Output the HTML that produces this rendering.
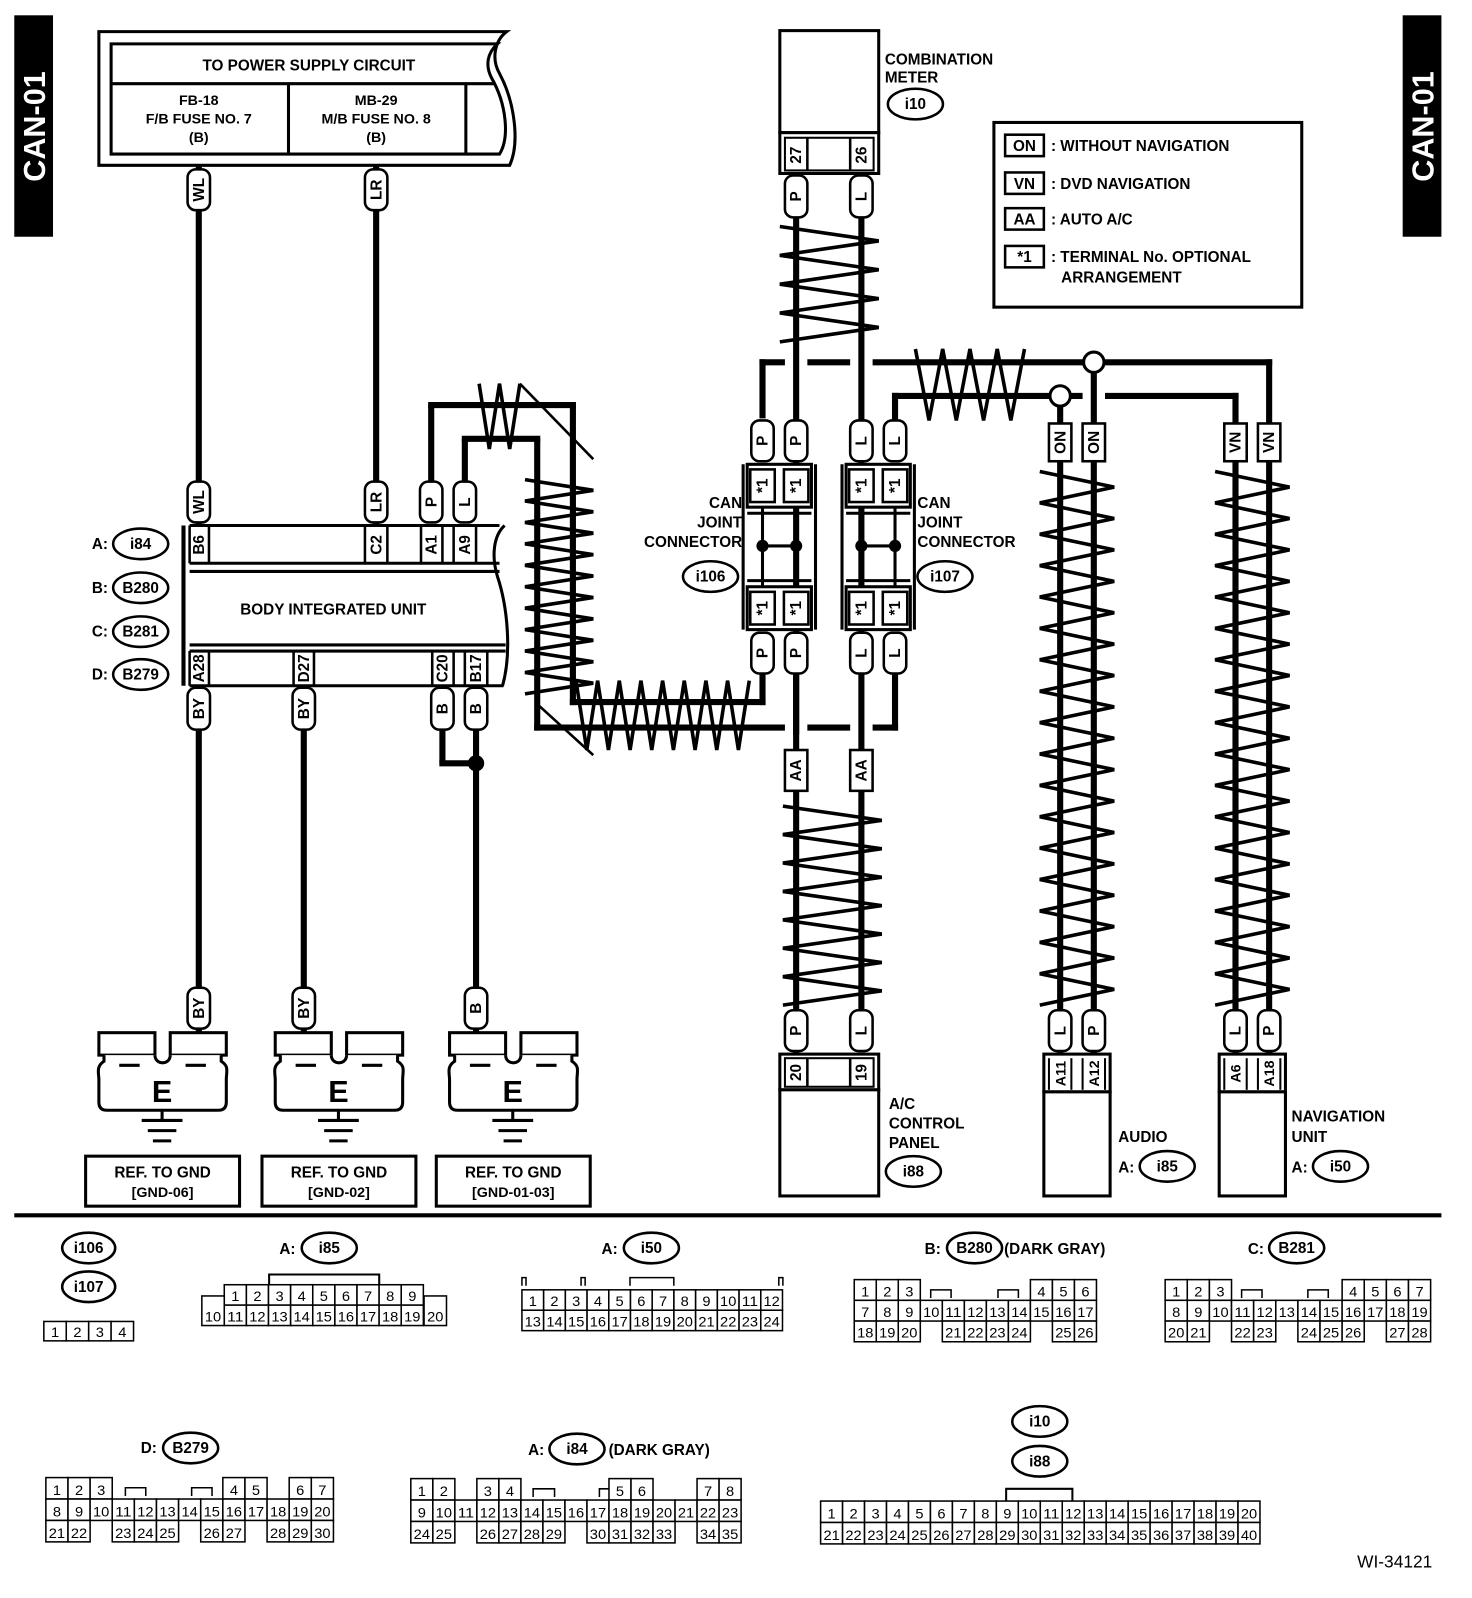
<!DOCTYPE html>
<html><head><meta charset="utf-8">
<style>
html,body{margin:0;padding:0;background:#fff;}
svg{display:block;}
text{font-family:"Liberation Sans",sans-serif;fill:#000;}
.b{font-weight:bold;}
</style></head>
<body>
<div id="w"></div>
<script>
var s=[];
function P(x){s.push(x);}
function L(x1,y1,x2,y2,w){P('<line x1="'+x1+'" y1="'+y1+'" x2="'+x2+'" y2="'+y2+'" stroke="#000" stroke-width="'+(w||6)+'"/>');}
function T(x,y,t,sz,anc,bold,extra){P('<text x="'+x+'" y="'+y+'" font-size="'+(sz||15)+'" text-anchor="'+(anc||'middle')+'" class="'+(bold===false?'':'b')+'" '+(extra||'')+'>'+t+'</text>');}
function TV(x,yc,t,sz){P('<text x="0" y="0" font-size="'+(sz||15)+'" text-anchor="middle" class="b" transform="translate('+(x+5)+','+yc+') rotate(-90)">'+t+'</text>');}
function pill(x,y1,y2,t){P('<rect x="'+(x-11)+'" y="'+y1+'" width="22" height="'+(y2-y1)+'" rx="8" fill="#fff" stroke="#000" stroke-width="2.5"/>');TV(x,(y1+y2)/2,t,15);}
function boxv(x,y1,y2,t){P('<rect x="'+(x-11)+'" y="'+y1+'" width="22" height="'+(y2-y1)+'" fill="#fff" stroke="#000" stroke-width="2.5"/>');TV(x,(y1+y2)/2,t,15);}
function oval(cx,cy,t,rx){rx=rx||27;P('<ellipse cx="'+cx+'" cy="'+cy+'" rx="'+rx+'" ry="15" fill="#fff" stroke="#000" stroke-width="2.5"/>');T(cx,cy+5,t,15);}
function zigV(xl,xr,y1,y2,n){var p=[],d=(y2-y1)/n;for(var i=0;i<=n;i++){p.push(((i%2)?xr:xl)+','+(y1+i*d));}P('<polyline points="'+p.join(' ')+'" fill="none" stroke="#000" stroke-width="3.5"/>');}
function zigH(x1,x2,yt,yb,n){var p=[],d=(x2-x1)/n;for(var i=0;i<=n;i++){p.push((x1+i*d)+','+((i%2)?yb:yt));}P('<polyline points="'+p.join(' ')+'" fill="none" stroke="#000" stroke-width="3.5"/>');}
function cell(x,y,w,h,t){P('<rect x="'+x+'" y="'+y+'" width="'+w+'" height="'+h+'" fill="#fff" stroke="#000" stroke-width="1.5"/>');if(t!==undefined&&t!=='')T(x+w/2,y+h-4,t,14,'middle',false,'textLength="'+Math.min(w-5,t.length*8)+'" lengthAdjust="spacingAndGlyphs"');}
function grid(x0,y0,cw,ch,rows){for(var r=0;r<rows.length;r++){for(var c=0;c<rows[r].length;c++){var v=rows[r][c];if(v!==null)cell(x0+c*cw,y0+r*ch,cw,ch,String(v));}}}
function tab(x,y,w){P('<polyline points="'+x+','+(y+8)+' '+x+','+y+' '+(x+w)+','+y+' '+(x+w)+','+(y+8)+'" fill="none" stroke="#000" stroke-width="1.5"/>');}

P('<rect x="14" y="15" width="38" height="217" fill="#000"/>');
P('<text x="0" y="0" font-size="30" class="b" text-anchor="middle" style="fill:#fff" transform="translate(44,124) rotate(-90)">CAN-01</text>');
P('<rect x="1376" y="15" width="38" height="217" fill="#000"/>');
P('<text x="0" y="0" font-size="30" class="b" text-anchor="middle" style="fill:#fff" transform="translate(1406,124) rotate(-90)">CAN-01</text>');

P('<path d="M97,31 L497,31 C485,40 482,58 490,72 C505,100 510,140 500,162 L97,162 Z" fill="none" stroke="#000" stroke-width="3"/>');
P('<path d="M109,43 L488,43 C478,52 476,64 482,76 C497,102 500,135 490,151 L109,151 Z" fill="none" stroke="#000" stroke-width="3"/>');
L(109,82,485,82,3);L(283,82,283,151,3);L(457,82,457,151,3);
T(303,69,'TO POWER SUPPLY CIRCUIT',15);
T(195,103,'FB-18',14);T(195,121,'F/B FUSE NO. 7',14);T(195,139,'(B)',14);
T(369,103,'MB-29',14);T(369,121,'M/B FUSE NO. 8',14);T(369,139,'(B)',14);

L(195,162,195,515);L(369,162,369,515);
pill(195,166,206,'WL');pill(369,166,206,'LR');
pill(195,472,512,'WL');pill(369,472,512,'LR');

L(423,472,423,397);L(420,397,565,397);L(562,397,562,691);L(559,688,751,688);L(748,691,748,655);
L(456,472,456,430);L(453,430,530,430);L(527,430,527,716);L(524,713,770,713);L(792,713,834,713);L(856,713,881,713);L(878,716,878,655);
pill(423,472,512,'P');pill(456,472,512,'L');
zigV(515,582,470,680,20);
zigH(565,735,667,735,16);
zigH(470,510,376,440,4);
L(510,376,582,450,2.5);L(527,690,582,740,2.5);

L(180,515,180,672,4);
L(186,515,490,515,3);L(186,552,490,552,3);
L(186,560,490,560,3);L(186,632,496,632,3);
L(186,638,496,638,3);L(186,672,494,672,3);
P('<path d="M495,515 C484,525 482,545 488,565 C498,595 502,640 493,672" fill="none" stroke="#000" stroke-width="3"/>');
[[186,205],[358,380],[413,434],[445,467]].forEach(function(a){L(a[0],515,a[0],552,2.5);L(a[1],515,a[1],552,2.5);});
TV(195,534,'B6',15);TV(369,534,'C2',15);TV(423,534,'A1',15);TV(456,534,'A9',15);
[[186,205],[288,308],[424,445],[456,478]].forEach(function(a){L(a[0],638,a[0],672,2.5);L(a[1],638,a[1],672,2.5);});
TV(195,655,'A28',15);TV(298,655,'D27',15);TV(434,655,'C20',15);TV(467,655,'B17',15);
T(327,602,'BODY INTEGRATED UNIT',15);
T(98,538,'A:',15,'middle');oval(138,533,'i84');
T(98,581,'B:',15,'middle');oval(138,576,'B280');
T(98,624,'C:',15,'middle');oval(138,619,'B281');
T(98,666,'D:',15,'middle');oval(138,661,'B279');

L(195,672,195,1012);L(298,672,298,1012);
L(434,672,434,748);L(431,748,470,748);L(467,672,467,1012);
P('<circle cx="467" cy="748" r="8" fill="#000"/>');
pill(195,674,715,'BY');pill(298,674,715,'BY');pill(434,674,715,'B');pill(467,674,715,'B');
pill(195,968,1008,'BY');pill(298,968,1008,'BY');pill(467,968,1008,'B');

[97,270,441].forEach(function(gx){
 P('<rect x="'+gx+'" y="1012" width="55" height="22" fill="#fff" stroke="#000" stroke-width="3"/>');
 P('<rect x="'+(gx+70)+'" y="1012" width="55" height="22" fill="#fff" stroke="#000" stroke-width="3"/>');
 P('<path d="M'+(gx+5)+',1034 L'+(gx+5)+',1040 C'+(gx-3)+',1045 '+(gx)+',1052 '+(gx)+',1058 L'+gx+',1080 Q'+gx+',1088 '+(gx+8)+',1088 L'+(gx+117)+',1088 Q'+(gx+125)+',1088 '+(gx+125)+',1080 L'+(gx+125)+',1058 C'+(gx+125)+',1050 '+(gx+128)+',1045 '+(gx+120)+',1040 L'+(gx+120)+',1034" fill="#fff" stroke="#000" stroke-width="3"/>');
 P('<path d="M'+(gx+55)+',1034 C'+(gx+55)+',1044 '+(gx+70)+',1044 '+(gx+70)+',1034" fill="none" stroke="#000" stroke-width="3"/>');
 L(gx+20,1044,gx+40,1044,3);L(gx+85,1044,gx+105,1044,3);
 T(gx+62,1080,'E',30);
 var c=gx+62;L(c,1088,c,1098,3);L(c-20,1098,c+20,1098,3);L(c-14,1108,c+14,1108,3);L(c-9,1118,c+9,1118,3);
});
[[84,235,'[GND-06]'],[257,408,'[GND-02]'],[428,579,'[GND-01-03]']].forEach(function(a){
 P('<rect x="'+a[0]+'" y="1133" width="'+(a[1]-a[0])+'" height="49" fill="#fff" stroke="#000" stroke-width="3"/>');
 T((a[0]+a[1])/2,1154,'REF. TO GND',15);T((a[0]+a[1])/2,1173,a[2],14);
});

P('<rect x="765" y="30" width="97" height="100" fill="#fff" stroke="#000" stroke-width="3"/>');
P('<rect x="765" y="130" width="97" height="40" fill="#fff" stroke="#000" stroke-width="3"/>');
P('<rect x="770" y="135" width="87" height="32" fill="none" stroke="#000" stroke-width="2"/>');
L(792,135,792,167,2.5);L(834,135,834,167,2.5);
TV(781,152,'27',15);TV(845,152,'26',15);
T(868,63,'COMBINATION',15,'start');T(868,81,'METER',15,'start');oval(898,102,'i10');

L(781,170,781,720);L(845,170,845,1000);
pill(781,172,213,'P');pill(845,172,213,'L');
zigV(765,862,222,335,8);

L(745,355,770,355);L(792,355,834,355);L(856,355,1248,355);
L(748,352,748,410);L(1245,352,1245,420);
L(875,388,1062,388);L(1084,388,1215,388);
L(878,385,878,415);L(1212,385,1212,420);
L(1073,355,1073,420);L(1040,388,1040,420);
zigH(898,1005,342,412,8);
P('<circle cx="1073" cy="355" r="10" fill="#fff" stroke="#000" stroke-width="3"/>');
P('<circle cx="1040" cy="388" r="10" fill="#fff" stroke="#000" stroke-width="3"/>');

function joint(xa,xb,lbl){
 var x0=xa-15,x1=xb+15;
 L(x0-4,455,x0-4,617,3);L(x1+4,455,x1+4,617,3);
 P('<rect x="'+(x0)+'" y="455" width="'+(x1-x0)+'" height="42" fill="#fff" stroke="#000" stroke-width="3"/>');
 P('<rect x="'+(x0)+'" y="575" width="'+(x1-x0)+'" height="42" fill="#fff" stroke="#000" stroke-width="3"/>');
 [xa,xb].forEach(function(x){
  P('<rect x="'+(x-12)+'" y="460" width="24" height="32" fill="#fff" stroke="#000" stroke-width="2.5"/>');
  P('<rect x="'+(x-12)+'" y="580" width="24" height="32" fill="#fff" stroke="#000" stroke-width="2.5"/>');
  TV(x,476,'*1',15);TV(x,596,'*1',15);
  L(x,497,x,575,3);
  P('<circle cx="'+x+'" cy="535" r="6" fill="#000"/>');
 });
 L(x0,503,x1,503,3);L(x0,569,x1,569,3);
 L(xa,535,xb,535,3);
 pill(xa,412,452,lbl);pill(xb,412,452,lbl);
 pill(xa,620,660,lbl);pill(xb,620,660,lbl);
}
joint(748,781,'P');joint(845,878,'L');
T(728,498,'CAN',15,'end');T(728,517,'JOINT',15,'end');T(728,536,'CONNECTOR',15,'end');oval(697,565,'i106');
T(900,498,'CAN',15,'start');T(900,517,'JOINT',15,'start');T(900,536,'CONNECTOR',15,'start');oval(927,565,'i107');

L(781,660,781,1035);
boxv(781,735,775,'AA');boxv(845,735,775,'AA');
zigV(768,865,790,985,14);
pill(781,990,1030,'P');pill(845,990,1030,'L');
P('<rect x="765" y="1033" width="97" height="35" fill="#fff" stroke="#000" stroke-width="3"/>');
P('<rect x="770" y="1037" width="87" height="28" fill="none" stroke="#000" stroke-width="2"/>');
L(792,1037,792,1065,2.5);L(834,1037,834,1065,2.5);
TV(781,1051,'20',15);TV(845,1051,'19',15);
P('<rect x="765" y="1068" width="97" height="104" fill="#fff" stroke="#000" stroke-width="3"/>');
T(872,1087,'A/C',15,'start');T(872,1106,'CONTROL',15,'start');T(872,1125,'PANEL',15,'start');oval(896,1148,'i88');

function unit(xa,xb,lbl,ta,tb){
 L(xa,420,xa,1035);L(xb,420,xb,1035);
 boxv(xa,415,452,lbl);boxv(xb,415,452,lbl);
 zigV(xa-20,xb+20,462,985,34);
 pill(xa,990,1030,'L');pill(xb,990,1030,'P');
 var x0=xa-16,x1=xb+16;
 P('<rect x="'+x0+'" y="1033" width="'+(x1-x0)+'" height="37" fill="#fff" stroke="#000" stroke-width="3"/>');
 L(xa-11,1037,xa-11,1068,2);L(xa+11,1037,xa+11,1068,2);L(xb-11,1037,xb-11,1068,2);L(xb+11,1037,xb+11,1068,2);
 TV(xa,1052,ta,14);TV(xb,1052,tb,14);
 P('<rect x="'+x0+'" y="1070" width="'+(x1-x0)+'" height="102" fill="#fff" stroke="#000" stroke-width="3"/>');
}
unit(1040,1073,'ON','A11','A12');
unit(1212,1245,'VN','A6','A18');
T(1097,1119,'AUDIO',15,'start');T(1097,1149,'A:',15,'start');oval(1145,1143,'i85');
T(1267,1099,'NAVIGATION',15,'start');T(1267,1119,'UNIT',15,'start');T(1267,1149,'A:',15,'start');oval(1315,1143,'i50');

P('<rect x="975" y="120" width="302" height="181" fill="#fff" stroke="#000" stroke-width="3"/>');
[[143,'ON',': WITHOUT NAVIGATION'],[180,'VN',': DVD NAVIGATION'],[215,'AA',': AUTO A/C'],[252,'*1',': TERMINAL No. OPTIONAL']].forEach(function(a){
 P('<rect x="986" y="'+(a[0]-11)+'" width="38" height="21" fill="#fff" stroke="#000" stroke-width="2.5"/>');
 T(1005,a[0]+5,a[1],15);T(1031,a[0]+5,a[2],15,'start');
});
T(1041,277,'ARRANGEMENT',15,'start');

L(14,1191,1414,1191,4);

oval(87,1223,'i106',26);oval(87,1261,'i107',26);
grid(43,1295,22,19,[[1,2,3,4]]);

T(282,1229,'A:',15);oval(323,1223,'i85');
P('<polyline points="264,1259 264,1249 372,1249 372,1259" fill="none" stroke="#000" stroke-width="2"/>');
grid(220,1259,21.7,20,[[1,2,3,4,5,6,7,8,9],[11,12,13,14,15,16,17,18,19]]);
cell(198,1270,22,29,'10');cell(416,1270,22,29,'20');

T(598,1229,'A:',15);oval(639,1223,'i50');
tab(512,1252,4);tab(570,1252,4);tab(618,1252,43);tab(764,1252,4);
grid(512,1264,21.3,20,[[1,2,3,4,5,6,7,8,9,10,11,12],[13,14,15,16,17,18,19,20,21,22,23,24]]);

T(915,1229,'B:',15);oval(956,1223,'B280');T(985,1229,'(DARK GRAY)',15,'start');
tab(913,1264,20);tab(979,1264,20);
grid(838,1254,21.6,20.3,[[1,2,3,null,null,null,null,null,4,5,6],[7,8,9,10,11,12,13,14,15,16,17],[18,19,20,null,21,22,23,24,null,25,26]]);

T(1232,1229,'C:',15);oval(1272,1223,'B281');
tab(1218,1264,20);tab(1283,1264,20);
grid(1143,1254,21.7,20.3,[[1,2,3,null,null,null,null,null,4,5,6,7],[8,9,10,11,12,13,14,15,16,17,18,19],[20,21,null,22,23,null,24,25,26,null,27,28]]);

T(146,1424,'D:',15);oval(187,1419,'B279');
tab(123,1458,20);tab(188,1458,20);
grid(45,1448,21.7,21,[[1,2,3,null,null,null,null,null,4,5,null,6,7],[8,9,10,11,12,13,14,15,16,17,18,19,20],[21,22,null,23,24,25,null,26,27,null,28,29,30]]);

T(526,1426,'A:',15);oval(566,1420,'i84');T(597,1426,'(DARK GRAY)',15,'start');
tab(523,1459,21);tab(588,1459,21);
grid(403,1449,21.6,21,[[1,2,null,3,4,null,null,null,null,5,6,null,null,7,8],[9,10,11,12,13,14,15,16,17,18,19,20,21,22,23],[24,25,null,26,27,28,29,null,30,31,32,33,null,34,35]]);

oval(1020,1393,'i10');oval(1020,1432,'i88');
P('<polyline points="987,1471 987,1459 1052,1459 1052,1471" fill="none" stroke="#000" stroke-width="2"/>');
var r1=[],r2=[];for(var i=1;i<=20;i++){r1.push(i);r2.push(i+20);}
grid(805,1471,21.55,21,[r1,r2]);

T(1405,1536,'WI-34121',17,'end',false);

document.getElementById('w').innerHTML='<svg xmlns="http://www.w3.org/2000/svg" width="1472" height="1598" viewBox="0 0 1444 1566" preserveAspectRatio="none">'+s.join('')+'</svg>';
</script>
</body></html>
